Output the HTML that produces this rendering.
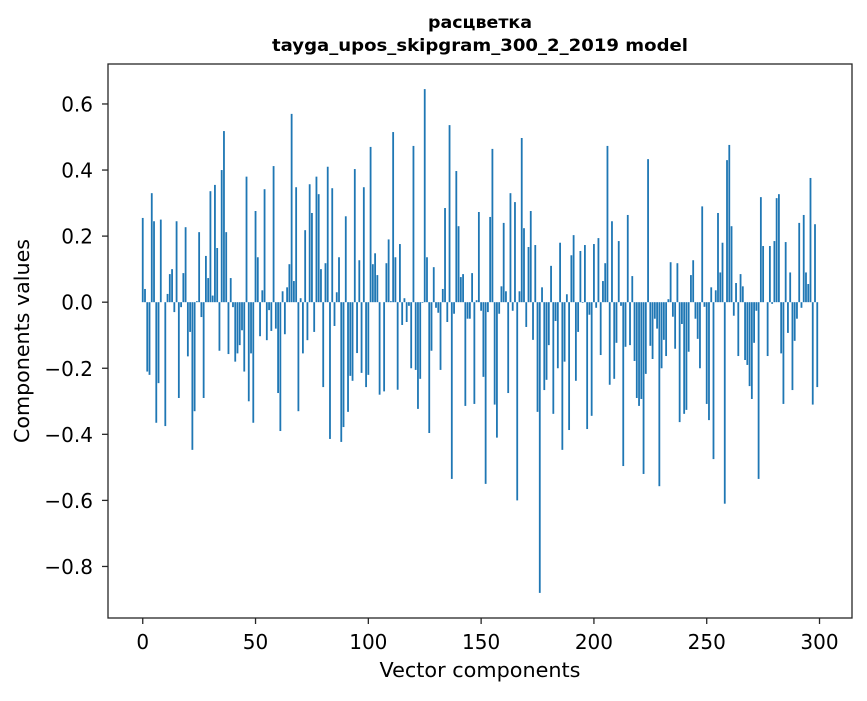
<!DOCTYPE html>
<html><head><meta charset="utf-8"><style>
body{margin:0;background:#fff;}
svg text{font-family:"DejaVu Sans","Liberation Sans",sans-serif;fill:#000;}
</style></head><body>
<svg id="chart" width="867" height="696" viewBox="0 0 867 696" xmlns="http://www.w3.org/2000/svg">
<rect x="0" y="0" width="867" height="696" fill="#fff"/>
<text x="480" y="28" font-size="17" font-weight="bold" text-anchor="middle" textLength="104" lengthAdjust="spacingAndGlyphs">расцветка</text>
<text x="480" y="51" font-size="17" font-weight="bold" text-anchor="middle" textLength="416" lengthAdjust="spacingAndGlyphs">tayga_upos_skipgram_300_2_2019 model</text>
<g id="bars"></g>
<g id="axes"></g>
<rect x="108" y="64" width="744" height="554" fill="none" stroke="#262626" stroke-width="1.3"/>
<text x="480" y="677" font-size="20" text-anchor="middle" textLength="201" lengthAdjust="spacingAndGlyphs">Vector components</text>
<text transform="translate(29,341) rotate(-90)" font-size="20" text-anchor="middle" textLength="204" lengthAdjust="spacingAndGlyphs">Components values</text>
</svg>
<script>
const values = [0.255,0.04,-0.21,-0.22,0.33,0.245,-0.365,-0.245,0.25,0,-0.375,0.025,0.085,0.10,-0.03,0.245,-0.29,-0.015,0.088,0.227,
-0.164,-0.09,-0.447,-0.33,0.003,0.212,-0.045,-0.29,0.14,0.073,0.336,0.02,0.355,0.164,-0.147,0.40,0.518,0.212,-0.157,0.073,
-0.015,-0.18,-0.155,-0.13,-0.085,-0.21,0.38,-0.30,-0.155,-0.365,0.276,0.136,-0.103,0.036,0.342,-0.115,-0.024,-0.087,0.412,-0.08,
-0.275,-0.39,0.033,-0.097,0.045,0.115,0.57,0.064,0.348,-0.33,0.012,-0.155,0.218,-0.115,0.357,0.27,-0.09,0.38,0.327,0.10,
-0.257,0.118,0.41,-0.414,0.345,-0.072,0.03,0.136,-0.423,-0.378,0.26,-0.332,-0.223,-0.238,0.403,-0.154,0.127,-0.214,0.348,-0.257,
-0.22,0.47,0.115,0.148,0.082,-0.28,0,-0.27,0.118,0.19,0.003,0.515,0.136,-0.265,0.176,-0.069,0.012,-0.06,-0.011,-0.2,
0.473,-0.205,-0.323,-0.232,-0.002,0.645,0.136,-0.396,-0.147,0.106,-0.017,-0.032,-0.205,0.04,0.285,-0.06,0.536,-0.535,-0.035,0.397,
0.23,0.076,0.085,-0.314,-0.05,-0.05,0.088,-0.308,0.006,0.273,-0.026,-0.226,-0.55,-0.03,0.258,0.464,-0.31,-0.41,-0.035,0.048,
0.24,0.033,-0.275,0.33,-0.026,0.303,-0.60,0.033,0.497,0.224,-0.075,0.167,0.276,-0.114,0.173,-0.332,-0.88,0.045,-0.266,-0.235,
-0.13,0.11,-0.338,-0.057,-0.2,0.18,-0.447,-0.18,0.024,-0.387,0.142,0.203,-0.238,-0.09,0.155,-0.002,0.173,-0.384,-0.038,-0.344,
0.176,-0.017,0.194,-0.16,0.064,0.118,0.473,-0.25,0.245,-0.232,-0.123,0.185,-0.011,-0.496,-0.135,0.264,-0.13,0.079,-0.178,-0.29,
-0.314,-0.293,-0.52,-0.217,0.433,-0.132,-0.172,-0.05,-0.08,-0.557,-0.2,-0.114,-0.163,0.009,0.121,-0.044,-0.141,0.118,-0.363,-0.066,
-0.338,-0.326,-0.15,0.082,0.127,-0.05,-0.111,-0.2,0.29,-0.014,-0.308,-0.357,0.045,-0.475,0.036,0.27,0.09,0.18,-0.61,0.43,
0.476,0.23,-0.041,0.058,-0.163,0.085,0.048,-0.175,-0.19,-0.254,-0.293,-0.123,-0.026,-0.535,0.318,0.17,0,-0.163,0.17,-0.005,
0.185,0.315,0.327,-0.155,-0.308,0.182,-0.093,0.09,-0.266,-0.117,-0.05,0.24,-0.017,0.264,0.09,0.055,0.376,-0.31,0.236,-0.257];
const xTicks = [0,50,100,150,200,250,300];
const yTicks = [-0.8,-0.6,-0.4,-0.2,0.0,0.2,0.4,0.6];
const yTickLabels = ["\u22120.8","\u22120.6","\u22120.4","\u22120.2","0.0","0.2","0.4","0.6"];

const NS="http://www.w3.org/2000/svg";
const L=108,R=852,T=64,B=618;
const xmin=-15.4,xmax=314.4;
const ymin=-0.956,ymax=0.721;
function xs(v){return L+(v-xmin)/(xmax-xmin)*(R-L);}
function ys(v){return B-(v-ymin)/(ymax-ymin)*(B-T);}
const bars=document.getElementById('bars');
values.forEach((v,i)=>{
  const r=document.createElementNS(NS,'rect');
  const x0=xs(i-0.4),x1=xs(i+0.4);
  const y0=ys(Math.max(v,0)),y1=ys(Math.min(v,0));
  r.setAttribute('x',x0);r.setAttribute('width',x1-x0);
  r.setAttribute('y',y0);r.setAttribute('height',Math.max(y1-y0,0.01));
  r.setAttribute('fill','#1f77b4');
  
  
  bars.appendChild(r);
});
const axes=document.getElementById('axes');
xTicks.forEach(t=>{
  const x=xs(t);
  const l=document.createElementNS(NS,'line');
  l.setAttribute('x1',x);l.setAttribute('x2',x);l.setAttribute('y1',B);l.setAttribute('y2',B+6);
  l.setAttribute('stroke','#262626');l.setAttribute('stroke-width','1.3');
  
  
  axes.appendChild(l);
  const tx=document.createElementNS(NS,'text');
  tx.setAttribute('x',x);tx.setAttribute('y',649);tx.setAttribute('font-size','20');tx.setAttribute('text-anchor','middle');
  tx.textContent=t;
  
  
  axes.appendChild(tx);
});
yTicks.forEach((t,i)=>{
  const y=ys(t);
  const l=document.createElementNS(NS,'line');
  l.setAttribute('x1',L-6);l.setAttribute('x2',L);l.setAttribute('y1',y);l.setAttribute('y2',y);
  l.setAttribute('stroke','#262626');l.setAttribute('stroke-width','1.3');
  
  
  axes.appendChild(l);
  const tx=document.createElementNS(NS,'text');
  tx.setAttribute('x',93);tx.setAttribute('y',y+7.5);tx.setAttribute('font-size','20');tx.setAttribute('text-anchor','end');
  tx.textContent=yTickLabels[i];
  
  
  axes.appendChild(tx);
});
</script>
</body></html>
